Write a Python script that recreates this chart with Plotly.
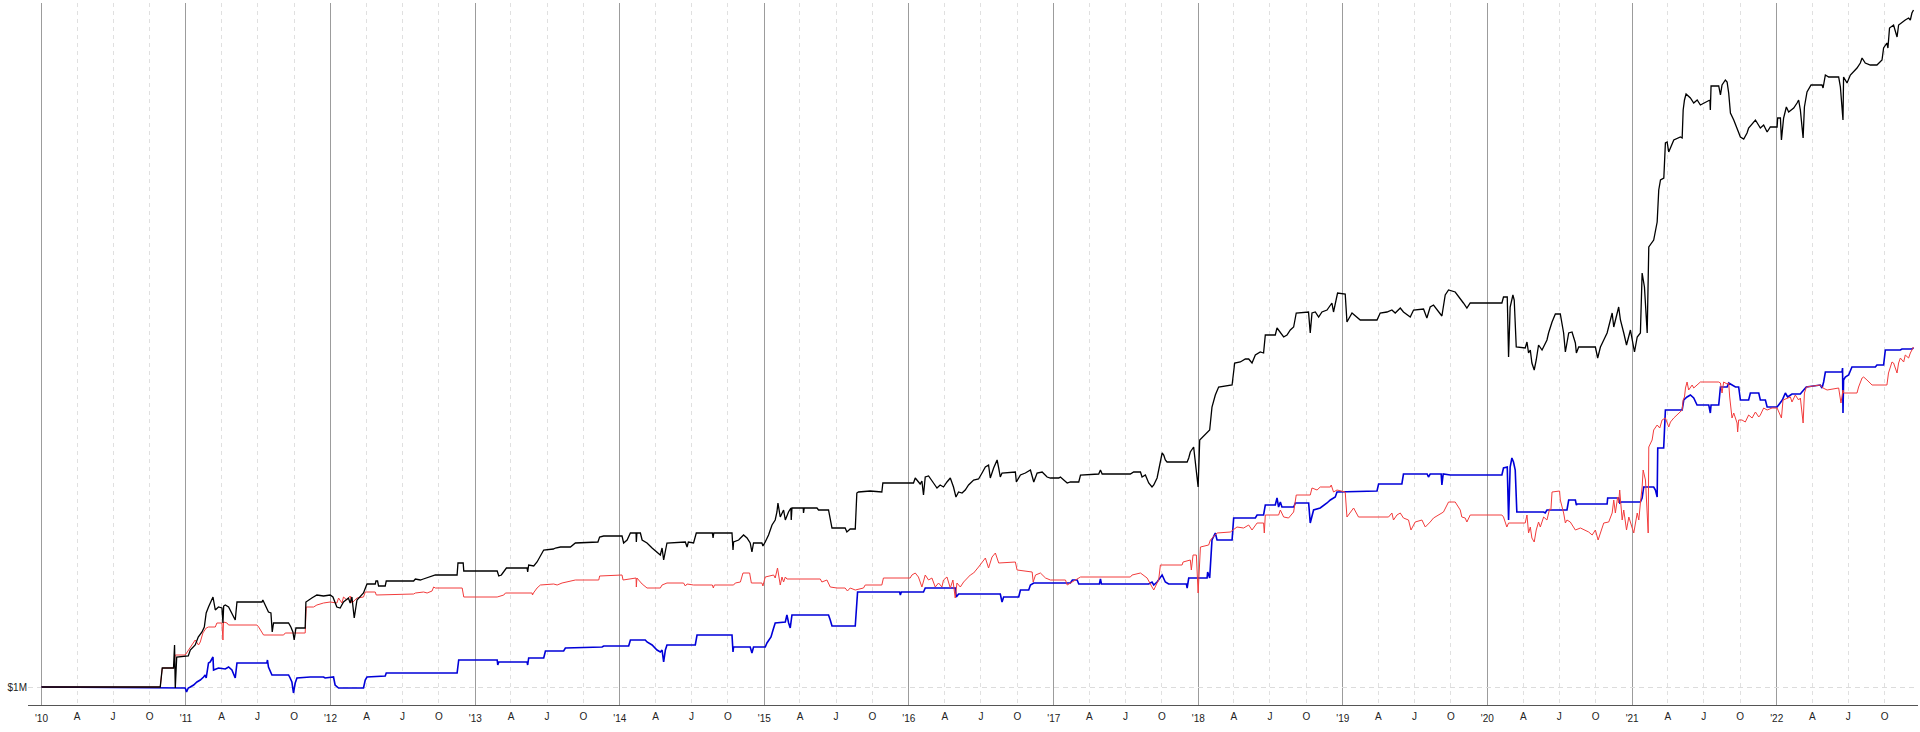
import pandas as pd
import plotly.graph_objects as go

# ---------------- data: time in decimal years, equity in $M ----------------
black_t = [
    2010.000, 2010.822, 2010.836, 2010.914, 2010.921, 2010.926, 2010.936,
    2011.016, 2011.030, 2011.064, 2011.085, 2011.111, 2011.127, 2011.140, 2011.156, 2011.187, 2011.203,
    2011.225, 2011.249, 2011.256, 2011.261, 2011.272, 2011.295, 2011.318, 2011.341, 2011.353, 2011.526,
    2011.532, 2011.548, 2011.571, 2011.588, 2011.597, 2011.606, 2011.710, 2011.726, 2011.740, 2011.749,
    2011.761, 2011.825, 2011.830, 2011.871, 2011.906, 2011.952, 2011.998,
    2012.017, 2012.044, 2012.067, 2012.090, 2012.124, 2012.136, 2012.148, 2012.164, 2012.183, 2012.228,
    2012.252, 2012.309, 2012.314, 2012.325, 2012.332, 2012.378, 2012.385, 2012.574, 2012.586, 2012.620,
    2012.641, 2012.701, 2012.724, 2012.874, 2012.880, 2012.916, 2012.920,
    2013.151, 2013.162, 2013.180, 2013.201, 2013.215, 2013.358, 2013.362, 2013.369, 2013.404, 2013.427,
    2013.445, 2013.473, 2013.540, 2013.554, 2013.589, 2013.623, 2013.658, 2013.692, 2013.848, 2013.860,
    2013.888,
    2014.015, 2014.026, 2014.050, 2014.073, 2014.112, 2014.114, 2014.118, 2014.142, 2014.154, 2014.188,
    2014.223, 2014.257, 2014.280, 2014.292, 2014.303, 2014.326, 2014.453, 2014.465, 2014.474, 2014.510,
    2014.529, 2014.640, 2014.645, 2014.650, 2014.776, 2014.783, 2014.787, 2014.822, 2014.856, 2014.880,
    2014.902, 2014.914, 2014.925, 2014.983, 2014.990,
    2015.006, 2015.029, 2015.053, 2015.075, 2015.087, 2015.094, 2015.110, 2015.133, 2015.145, 2015.167,
    2015.184, 2015.186, 2015.191, 2015.269, 2015.271, 2015.276, 2015.364, 2015.375, 2015.444, 2015.456,
    2015.468, 2015.559, 2015.571, 2015.594, 2015.629, 2015.640, 2015.651, 2015.732, 2015.813, 2015.820,
    2015.997,
    2016.009, 2016.032, 2016.044, 2016.066, 2016.078, 2016.090, 2016.101, 2016.113, 2016.136, 2016.170,
    2016.194, 2016.216, 2016.239, 2016.263, 2016.286, 2016.308, 2016.325, 2016.343, 2016.367, 2016.389,
    2016.412, 2016.447, 2016.481, 2016.505, 2016.528, 2016.550, 2016.562, 2016.585, 2016.609, 2016.620,
    2016.631, 2016.643, 2016.735, 2016.742, 2016.770, 2016.804, 2016.839, 2016.862, 2016.885, 2016.920,
    2016.954, 2016.977,
    2017.035, 2017.046, 2017.093, 2017.115, 2017.173, 2017.185, 2017.311, 2017.323, 2017.335, 2017.530,
    2017.553, 2017.600, 2017.611, 2017.634, 2017.657, 2017.680, 2017.692, 2017.715, 2017.733, 2017.750,
    2017.761, 2017.772, 2017.784, 2017.923, 2017.934, 2017.945, 2017.968, 2017.980, 2017.999,
    2018.010, 2018.061, 2018.079, 2018.095, 2018.118, 2018.141, 2018.234, 2018.252, 2018.291, 2018.326,
    2018.349, 2018.372, 2018.395, 2018.429, 2018.452, 2018.464, 2018.533, 2018.545, 2018.568, 2018.591,
    2018.614, 2018.637, 2018.660, 2018.678, 2018.763, 2018.775, 2018.787, 2018.810, 2018.833, 2018.856,
    2018.891, 2018.925, 2018.936, 2018.948, 2018.964,
    2019.017, 2019.029, 2019.064, 2019.098, 2019.121, 2019.237, 2019.259, 2019.306, 2019.340, 2019.363,
    2019.398, 2019.420, 2019.467, 2019.490, 2019.559, 2019.582, 2019.605, 2019.628, 2019.686, 2019.709,
    2019.732, 2019.778, 2019.824, 2019.835, 2019.859, 2019.882,
    2020.101, 2020.112, 2020.138, 2020.147, 2020.158, 2020.177, 2020.186, 2020.200, 2020.262, 2020.274,
    2020.285, 2020.297, 2020.308, 2020.324, 2020.338, 2020.354, 2020.378, 2020.412, 2020.423, 2020.447,
    2020.470, 2020.504, 2020.527, 2020.539, 2020.562, 2020.585, 2020.608, 2020.615, 2020.631, 2020.746,
    2020.762, 2020.781, 2020.804, 2020.827, 2020.862, 2020.873, 2020.907, 2020.919, 2020.942, 2020.961,
    2020.988,
    2021.016, 2021.035, 2021.057, 2021.069, 2021.085, 2021.104, 2021.115, 2021.149, 2021.161, 2021.173,
    2021.184, 2021.196, 2021.219, 2021.230, 2021.242, 2021.253, 2021.288, 2021.334, 2021.346, 2021.353,
    2021.362, 2021.373, 2021.403, 2021.426, 2021.450, 2021.472, 2021.538, 2021.541, 2021.546, 2021.599,
    2021.611, 2021.622, 2021.645, 2021.657, 2021.668, 2021.680, 2021.703, 2021.726, 2021.749, 2021.772,
    2021.795, 2021.806, 2021.853, 2021.887, 2021.910, 2021.934, 2021.956,
    2022.003, 2022.007, 2022.026, 2022.033, 2022.048, 2022.067, 2022.083, 2022.118, 2022.141, 2022.152,
    2022.164, 2022.183, 2022.192, 2022.210, 2022.238, 2022.314, 2022.321, 2022.337, 2022.360, 2022.429,
    2022.441, 2022.459, 2022.463, 2022.487, 2022.510, 2022.528, 2022.556, 2022.579, 2022.591, 2022.613,
    2022.648, 2022.694, 2022.717, 2022.729, 2022.740, 2022.763, 2022.770, 2022.781, 2022.809, 2022.833,
    2022.844, 2022.867, 2022.890, 2022.913, 2022.925, 2022.936, 2022.947,
]
black_v = [
    1.00, 1.00, 1.19, 1.19, 1.42, 0.99, 1.30,
    1.31, 1.37, 1.42, 1.50, 1.55, 1.60, 1.74, 1.80, 1.90, 1.77,
    1.80, 1.79, 1.64, 1.81, 1.82, 1.80, 1.74, 1.67, 1.85, 1.85,
    1.87, 1.82, 1.75, 1.74, 1.55, 1.64, 1.64, 1.60, 1.55, 1.47,
    1.59, 1.59, 1.85, 1.89, 1.92, 1.91, 1.92,
    1.90, 1.80, 1.79, 1.85, 1.89, 1.84, 1.90, 1.69, 1.87, 1.94,
    2.03, 2.03, 2.06, 2.06, 2.01, 2.01, 2.06, 2.06, 2.08, 2.07,
    2.08, 2.11, 2.12, 2.12, 2.24, 2.24, 2.16,
    2.16, 2.11, 2.12, 2.17, 2.19, 2.19, 2.15, 2.22, 2.21, 2.25,
    2.30, 2.37, 2.38, 2.39, 2.40, 2.40, 2.40, 2.44, 2.45, 2.50,
    2.51,
    2.51, 2.44, 2.47, 2.54, 2.54, 2.45, 2.54, 2.54, 2.47, 2.44,
    2.39, 2.35, 2.32, 2.39, 2.27, 2.44, 2.45, 2.40, 2.45, 2.44,
    2.54, 2.54, 2.49, 2.54, 2.54, 2.37, 2.45, 2.47, 2.52, 2.49,
    2.44, 2.35, 2.44, 2.44, 2.41,
    2.45, 2.52, 2.62, 2.67, 2.75, 2.84, 2.70, 2.77, 2.67, 2.75,
    2.79, 2.67, 2.79, 2.79, 2.74, 2.79, 2.79, 2.77, 2.77, 2.69,
    2.59, 2.59, 2.55, 2.58, 2.58, 2.94, 2.95, 2.96, 2.95, 3.04,
    3.04,
    3.04, 3.04, 3.09, 3.05, 3.03, 3.06, 2.92, 3.10, 3.11, 3.04,
    2.99, 3.02, 3.00, 3.05, 3.09, 3.00, 2.90, 2.95, 2.94, 2.97,
    3.02, 3.07, 3.08, 3.14, 3.20, 3.22, 3.09, 3.19, 3.27, 3.19,
    3.10, 3.14, 3.15, 3.05, 3.12, 3.14, 3.17, 3.05, 3.14, 3.15,
    3.10, 3.09,
    3.09, 3.10, 3.04, 3.05, 3.05, 3.12, 3.13, 3.17, 3.13, 3.13,
    3.15, 3.15, 3.10, 3.12, 3.04, 3.00, 3.02, 3.09, 3.24, 3.34,
    3.32, 3.27, 3.25, 3.25, 3.29, 3.35, 3.40, 3.24, 3.00,
    3.47, 3.54, 3.57, 3.80, 3.92, 4.00, 4.02, 4.24, 4.25, 4.28,
    4.28, 4.24, 4.32, 4.35, 4.34, 4.52, 4.52, 4.59, 4.54, 4.50,
    4.52, 4.57, 4.60, 4.74, 4.75, 4.54, 4.74, 4.75, 4.70, 4.75,
    4.77, 4.84, 4.75, 4.85, 4.94,
    4.93, 4.65, 4.74, 4.70, 4.67, 4.67, 4.74, 4.75, 4.77, 4.74,
    4.79, 4.75, 4.70, 4.77, 4.78, 4.69, 4.80, 4.82, 4.71, 4.92,
    4.97, 4.95, 4.87, 4.84, 4.79, 4.84,
    4.84, 4.90, 4.90, 4.30, 4.80, 4.92, 4.87, 4.40, 4.39, 4.45,
    4.34, 4.37, 4.24, 4.17, 4.27, 4.42, 4.37, 4.47, 4.54, 4.65,
    4.73, 4.73, 4.54, 4.35, 4.54, 4.55, 4.44, 4.34, 4.40, 4.40,
    4.29, 4.40, 4.47, 4.54, 4.74, 4.60, 4.80, 4.67, 4.54, 4.42,
    4.57,
    4.35, 4.50, 4.54, 5.14, 5.00, 4.54, 5.40, 5.47, 5.57, 5.65,
    5.97, 6.07, 6.09, 6.44, 6.45, 6.35, 6.47, 6.50, 6.49, 6.77,
    6.87, 6.93, 6.89, 6.84, 6.87, 6.82, 6.87, 6.77, 7.01, 7.01,
    6.92, 7.02, 7.07, 7.05, 6.94, 6.74, 6.67, 6.59, 6.50, 6.48,
    6.54, 6.59, 6.67, 6.59, 6.62, 6.55, 6.60,
    6.60, 6.69, 6.69, 6.47, 6.69, 6.80, 6.75, 6.79, 6.84, 6.87,
    6.77, 6.49, 6.80, 6.95, 7.02, 7.02, 6.99, 7.12, 7.10, 7.10,
    7.00, 6.67, 7.10, 7.04, 7.12, 7.15, 7.19, 7.24, 7.29, 7.24,
    7.22, 7.22, 7.25, 7.27, 7.39, 7.44, 7.39, 7.59, 7.62, 7.50,
    7.62, 7.65, 7.67, 7.69, 7.67, 7.74, 7.77,
]

red_t = [
    2010.000, 2010.822, 2010.836, 2010.914, 2010.926, 2010.995,
    2011.018, 2011.041, 2011.064, 2011.087, 2011.099, 2011.117, 2011.140, 2011.156, 2011.203, 2011.214,
    2011.249, 2011.256, 2011.260, 2011.284, 2011.295, 2011.491, 2011.503, 2011.537, 2011.676, 2011.687,
    2011.825, 2011.832, 2011.883, 2011.906, 2011.952, 2011.998,
    2012.044, 2012.056, 2012.079, 2012.090, 2012.113, 2012.136, 2012.148, 2012.183, 2012.228, 2012.240,
    2012.309, 2012.316, 2012.574, 2012.586, 2012.643, 2012.667, 2012.701, 2012.712, 2012.724, 2012.909,
    2012.920,
    2013.151, 2013.174, 2013.197, 2013.208, 2013.393, 2013.395, 2013.402, 2013.427, 2013.450, 2013.542,
    2013.566, 2013.600, 2013.692, 2013.854, 2013.860,
    2014.015, 2014.022, 2014.112, 2014.114, 2014.118, 2014.154, 2014.188, 2014.280, 2014.292, 2014.326,
    2014.441, 2014.453, 2014.465, 2014.510, 2014.640, 2014.647, 2014.654, 2014.787, 2014.799, 2014.834,
    2014.852, 2014.898, 2014.910, 2014.983, 2014.990,
    2015.006, 2015.064, 2015.075, 2015.091, 2015.110, 2015.122, 2015.133, 2015.145, 2015.156, 2015.387,
    2015.398, 2015.433, 2015.456, 2015.502, 2015.559, 2015.575, 2015.594, 2015.629, 2015.686, 2015.698,
    2015.813, 2015.824,
    2016.009, 2016.021, 2016.044, 2016.066, 2016.090, 2016.113, 2016.136, 2016.159, 2016.182, 2016.205,
    2016.228, 2016.239, 2016.263, 2016.286, 2016.304, 2016.320, 2016.332, 2016.355, 2016.378, 2016.424,
    2016.447, 2016.481, 2016.516, 2016.528, 2016.550, 2016.574, 2016.597, 2016.620, 2016.735, 2016.747,
    2016.851, 2016.858, 2016.874, 2016.908, 2016.943, 2016.977,
    2017.081, 2017.093, 2017.127, 2017.185, 2017.530, 2017.542, 2017.600, 2017.646, 2017.680, 2017.692,
    2017.715, 2017.726, 2017.738, 2017.888, 2017.895, 2017.945, 2017.952, 2017.964, 2017.987, 2017.999,
    2018.015, 2018.072, 2018.084, 2018.130, 2018.222, 2018.268, 2018.314, 2018.349, 2018.372, 2018.407,
    2018.452, 2018.457, 2018.464, 2018.556, 2018.568, 2018.591, 2018.625, 2018.660, 2018.678, 2018.775,
    2018.787, 2018.822, 2018.844, 2018.914, 2018.920, 2018.936, 2018.960,
    2019.017, 2019.029, 2019.064, 2019.075, 2019.109, 2019.317, 2019.340, 2019.351, 2019.375, 2019.398,
    2019.420, 2019.455, 2019.472, 2019.501, 2019.548, 2019.571, 2019.605, 2019.628, 2019.697, 2019.732,
    2019.778, 2019.790, 2019.813, 2019.824, 2019.847, 2019.859, 2019.882,
    2020.101, 2020.112, 2020.135, 2020.147, 2020.262, 2020.274, 2020.285, 2020.297, 2020.308, 2020.324,
    2020.338, 2020.354, 2020.366, 2020.389, 2020.412, 2020.430, 2020.439, 2020.447, 2020.499, 2020.504,
    2020.527, 2020.539, 2020.550, 2020.573, 2020.608, 2020.643, 2020.700, 2020.724, 2020.746, 2020.765,
    2020.781, 2020.804, 2020.838, 2020.862, 2020.873, 2020.884, 2020.900, 2020.907, 2020.914, 2020.931,
    2020.942, 2020.961, 2020.977,
    2021.011, 2021.035, 2021.046, 2021.057, 2021.069, 2021.076, 2021.092, 2021.111, 2021.115, 2021.138,
    2021.149, 2021.173, 2021.191, 2021.207, 2021.230, 2021.253, 2021.265, 2021.288, 2021.311, 2021.329,
    2021.346, 2021.353, 2021.362, 2021.369, 2021.380, 2021.391, 2021.415, 2021.426, 2021.472, 2021.599,
    2021.611, 2021.622, 2021.633, 2021.657, 2021.668, 2021.675, 2021.691, 2021.703, 2021.726, 2021.730,
    2021.737, 2021.760, 2021.783, 2021.806, 2021.830, 2021.853, 2021.876, 2021.887, 2021.910, 2021.934,
    2021.968,
    2022.003, 2022.033, 2022.044, 2022.072, 2022.095, 2022.106, 2022.129, 2022.152, 2022.164, 2022.183,
    2022.192, 2022.206, 2022.302, 2022.321, 2022.349, 2022.429, 2022.445, 2022.459, 2022.463, 2022.556,
    2022.567, 2022.591, 2022.602, 2022.625, 2022.660, 2022.763, 2022.774, 2022.798, 2022.809, 2022.833,
    2022.844, 2022.856, 2022.879, 2022.890, 2022.913, 2022.925, 2022.947,
]
red_v = [
    1.00, 1.00, 1.19, 1.19, 1.32, 1.32,
    1.37, 1.42, 1.47, 1.42, 1.45, 1.54, 1.59, 1.60, 1.60, 1.64,
    1.64, 1.47, 1.65, 1.64, 1.62, 1.62, 1.60, 1.52, 1.52, 1.54,
    1.54, 1.80, 1.80, 1.82, 1.84, 1.85,
    1.84, 1.89, 1.84, 1.90, 1.87, 1.91, 1.84, 1.89, 1.90, 1.95,
    1.95, 1.92, 1.93, 1.94, 1.95, 1.94, 1.96, 2.00, 1.99, 1.99,
    1.90,
    1.90, 1.91, 1.92, 1.94, 1.94, 1.92, 1.94, 1.99, 2.02, 2.03,
    2.02, 2.04, 2.07, 2.07, 2.11,
    2.12, 2.07, 2.09, 2.00, 2.09, 2.03, 1.99, 1.99, 2.02, 2.04,
    2.04, 2.01, 2.03, 2.02, 2.02, 1.99, 2.02, 2.02, 2.04, 2.05,
    2.14, 2.14, 2.04, 2.04, 2.01,
    2.10, 2.12, 2.09, 2.19, 2.02, 2.10, 2.05, 2.10, 2.08, 2.08,
    2.05, 2.07, 2.00, 1.99, 1.99, 1.96, 1.99, 1.97, 1.99, 2.02,
    2.02, 2.09,
    2.09, 2.12, 2.14, 2.10, 2.00, 2.12, 2.07, 2.09, 2.00, 2.04,
    2.00, 2.07, 2.10, 1.99, 2.07, 1.89, 2.04, 2.00, 2.05, 2.12,
    2.14, 2.20, 2.27, 2.29, 2.19, 2.30, 2.34, 2.24, 2.25, 2.17,
    2.15, 2.05, 2.12, 2.14, 2.09, 2.07,
    2.07, 2.02, 2.05, 2.10, 2.10, 2.12, 2.14, 2.09, 2.00, 1.97,
    2.04, 2.07, 2.22, 2.22, 2.25, 2.27, 2.17, 2.32, 2.32, 1.94,
    2.40, 2.42, 2.47, 2.54, 2.55, 2.60, 2.59, 2.62, 2.57, 2.64,
    2.64, 2.54, 2.72, 2.72, 2.77, 2.70, 2.69, 2.75, 2.92, 2.92,
    2.99, 2.97, 3.00, 3.00, 3.02, 2.95, 2.97,
    2.95, 2.70, 2.77, 2.79, 2.70, 2.70, 2.74, 2.67, 2.72, 2.74,
    2.69, 2.67, 2.57, 2.65, 2.67, 2.60, 2.65, 2.69, 2.75, 2.85,
    2.85, 2.82, 2.77, 2.70, 2.69, 2.65, 2.72,
    2.72, 2.70, 2.60, 2.64, 2.64, 2.72, 2.54, 2.60, 2.49, 2.45,
    2.57, 2.65, 2.60, 2.70, 2.67, 2.78, 2.77, 2.95, 2.96, 2.87,
    2.74, 2.64, 2.67, 2.65, 2.57, 2.59, 2.55, 2.52, 2.57, 2.47,
    2.54, 2.64, 2.65, 2.74, 2.87, 2.74, 2.90, 2.84, 2.97, 2.67,
    2.77, 2.57, 2.70,
    2.54, 2.74, 2.67, 2.84, 3.00, 3.17, 3.07, 2.54, 3.40, 3.47,
    3.57, 3.62, 3.59, 3.67, 3.69, 3.60, 3.65, 3.69, 3.72, 3.74,
    3.77, 3.87, 3.90, 3.99, 4.05, 3.97, 4.02, 3.99, 4.05, 4.05,
    4.04, 3.94, 4.05, 4.03, 4.04, 3.90, 3.69, 3.74, 3.64, 3.55,
    3.67, 3.67, 3.65, 3.72, 3.69, 3.75, 3.70, 3.72, 3.79, 3.77,
    3.79,
    3.79, 3.69, 3.87, 3.89, 3.90, 3.85, 3.92, 3.87, 3.89, 3.64,
    3.94, 4.00, 4.02, 3.99, 3.97, 3.99, 3.84, 3.97, 3.94, 3.94,
    4.00, 4.09, 4.10, 4.07, 4.02, 4.02, 4.14, 4.25, 4.24, 4.14,
    4.24, 4.29, 4.25, 4.32, 4.29, 4.34, 4.40,
]

blue_t = [
    2010.000, 2010.822, 2010.995,
    2011.004, 2011.016, 2011.030, 2011.053, 2011.076, 2011.099, 2011.122, 2011.133, 2011.140, 2011.156,
    2011.168, 2011.187, 2011.191, 2011.225, 2011.272, 2011.295, 2011.318, 2011.341, 2011.353, 2011.560,
    2011.564, 2011.571, 2011.595, 2011.710, 2011.721, 2011.733, 2011.744, 2011.756, 2011.768, 2011.860,
    2011.952, 2011.963,
    2012.021, 2012.032, 2012.056, 2012.228, 2012.240, 2012.252, 2012.378, 2012.385, 2012.874, 2012.885,
    2013.151, 2013.155, 2013.162, 2013.358, 2013.362, 2013.369, 2013.473, 2013.485, 2013.611, 2013.623,
    2013.877, 2013.888,
    2014.061, 2014.073, 2014.176, 2014.188, 2014.223, 2014.257, 2014.280, 2014.292, 2014.303, 2014.315,
    2014.326, 2014.522, 2014.534, 2014.776, 2014.783, 2014.787, 2014.902, 2014.914, 2014.925,
    2015.006, 2015.018, 2015.046, 2015.060, 2015.075, 2015.145, 2015.156, 2015.168, 2015.179, 2015.191,
    2015.444, 2015.456, 2015.468, 2015.629, 2015.645, 2015.936, 2015.941, 2015.948,
    2016.101, 2016.113, 2016.320, 2016.327, 2016.343, 2016.631, 2016.643, 2016.654, 2016.758, 2016.770,
    2016.827, 2016.839, 2016.862,
    2017.115, 2017.129, 2017.162, 2017.173, 2017.316, 2017.323, 2017.330, 2017.657, 2017.680, 2017.692,
    2017.715, 2017.750, 2017.772, 2017.795, 2017.918, 2017.923, 2017.934,
    2018.061, 2018.065, 2018.079, 2018.095, 2018.118, 2018.130, 2018.234, 2018.245, 2018.395, 2018.407,
    2018.452, 2018.464, 2018.533, 2018.545, 2018.556, 2018.568, 2018.579, 2018.660, 2018.672, 2018.764,
    2018.775, 2018.798, 2018.844, 2018.891, 2018.914, 2018.948, 2018.960,
    2019.237, 2019.248, 2019.409, 2019.420, 2019.584, 2019.593, 2019.605, 2019.681, 2019.686, 2019.695,
    2019.744,
    2020.101, 2020.112, 2020.138, 2020.147, 2020.158, 2020.170, 2020.181, 2020.193, 2020.204, 2020.389,
    2020.400, 2020.412, 2020.550, 2020.562, 2020.608, 2020.615, 2020.620, 2020.827, 2020.831, 2020.907,
    2020.914, 2020.924,
    2021.057, 2021.069, 2021.080, 2021.149, 2021.161, 2021.173, 2021.177, 2021.218, 2021.230, 2021.346,
    2021.357, 2021.380, 2021.403, 2021.426, 2021.449, 2021.530, 2021.541, 2021.546, 2021.599, 2021.611,
    2021.657, 2021.668, 2021.715, 2021.737, 2021.749, 2021.806, 2021.818, 2021.876, 2021.887, 2021.922,
    2021.934,
    2022.003, 2022.021, 2022.039, 2022.060, 2022.076, 2022.106, 2022.164, 2022.175, 2022.205, 2022.302,
    2022.314, 2022.325, 2022.337, 2022.452, 2022.456, 2022.459, 2022.463, 2022.475, 2022.498, 2022.521,
    2022.683, 2022.694, 2022.740, 2022.752, 2022.856, 2022.867, 2022.936, 2022.947,
]
blue_v = [
    1.00, 0.99, 0.99,
    0.95, 0.99, 1.00, 1.02, 1.05, 1.07, 1.10, 1.12, 1.09, 1.24,
    1.25, 1.30, 1.17, 1.19, 1.18, 1.20, 1.17, 1.09, 1.24, 1.24,
    1.27, 1.20, 1.12, 1.12, 1.09, 1.05, 0.94, 1.04, 1.09, 1.10,
    1.10, 1.09,
    1.10, 1.02, 0.99, 0.99, 1.07, 1.10, 1.11, 1.14, 1.14, 1.27,
    1.27, 1.22, 1.25, 1.25, 1.22, 1.29, 1.29, 1.36, 1.36, 1.39,
    1.40, 1.41,
    1.41, 1.47, 1.47, 1.45, 1.42, 1.37, 1.35, 1.37, 1.25, 1.37,
    1.42, 1.42, 1.52, 1.52, 1.35, 1.40, 1.40, 1.34, 1.40,
    1.40, 1.44, 1.50, 1.57, 1.64, 1.65, 1.72, 1.64, 1.59, 1.72,
    1.72, 1.67, 1.61, 1.61, 1.95, 1.95, 1.92, 1.95,
    1.95, 1.99, 1.99, 1.90, 1.93, 1.93, 1.85, 1.90, 1.90, 1.97,
    1.97, 2.02, 2.04,
    2.04, 2.07, 2.07, 2.03, 2.03, 2.08, 2.03, 2.03, 2.05, 2.02,
    2.05, 2.12, 2.05, 2.03, 2.03, 1.99, 2.09,
    2.09, 2.15, 2.09, 2.47, 2.54, 2.47, 2.47, 2.69, 2.69, 2.72,
    2.72, 2.82, 2.82, 2.89, 2.80, 2.85, 2.80, 2.80, 2.84, 2.84,
    2.64, 2.77, 2.79, 2.84, 2.87, 2.90, 2.95,
    2.96, 3.03, 3.03, 3.13, 3.13, 3.10, 3.13, 3.13, 3.02, 3.13,
    3.12,
    3.12, 3.19, 3.20, 2.67, 3.20, 3.29, 3.25, 3.17, 2.75, 2.75,
    2.74, 2.77, 2.77, 2.87, 2.87, 2.82, 2.83, 2.83, 2.89, 2.89,
    2.84, 2.85,
    2.85, 2.89, 3.00, 3.00, 2.97, 2.90, 3.39, 3.39, 3.77, 3.77,
    3.87, 3.90, 3.92, 3.89, 3.82, 3.82, 3.74, 3.82, 3.82, 4.00,
    4.00, 4.04, 4.00, 4.00, 3.87, 3.87, 3.94, 3.94, 3.87, 3.87,
    3.80,
    3.80, 3.84, 3.87, 3.94, 3.90, 3.93, 3.93, 3.95, 4.00, 4.02,
    3.99, 4.05, 4.15, 4.15, 4.19, 3.74, 4.07, 4.10, 4.12, 4.20,
    4.20, 4.22, 4.22, 4.37, 4.37, 4.38, 4.38, 4.39,
]

# axis ticks
tick_years = list(range(2010, 2023))
year_labels = ["'" + str(y)[2:] for y in tick_years]
quarter_months = [4, 7, 10]
quarter_letters = ["A", "J", "O"]
y_tick_values = [1.0]
y_tick_labels = ["$1M"]
x_range = ["2009-11-28", "2022-12-24"]
y_range = [0.82, 7.84]


def to_dates(ts):
    out = []
    for t in ts:
        y = int(t)
        start = pd.Timestamp(year=y, month=1, day=1)
        end = pd.Timestamp(year=y + 1, month=1, day=1)
        out.append(start + (end - start) * (t - y))
    return out


year_vals = [f"{y}-01-01" for y in tick_years]
quarter_vals = [f"{y}-{m:02d}-01" for y in tick_years for m in quarter_months]
quarter_text = [q for y in tick_years for q in quarter_letters]

fig = go.Figure()
fig.add_trace(go.Scatter(x=to_dates(blue_t), y=blue_v, mode="lines",
                         line=dict(color="#0000d8", width=1.6), name="blue"))
fig.add_trace(go.Scatter(x=to_dates(red_t), y=red_v, mode="lines",
                         line=dict(color="#f23c3c", width=1.0), name="red"))
# black on the overlay x-axis (same range) so that axis carries the quarter letters
fig.add_trace(go.Scatter(x=to_dates(black_t), y=black_v, mode="lines", xaxis="x2",
                         line=dict(color="#000000", width=1.3), name="black"))

fig.update_layout(
    width=1920, height=732,
    margin=dict(l=28, r=2, t=3, b=27),
    paper_bgcolor="white", plot_bgcolor="white",
    showlegend=False,
    font=dict(family="Liberation Sans, Arial, sans-serif", size=10, color="#222222"),
    xaxis=dict(
        type="date", range=x_range,
        tickmode="array", tickvals=year_vals, ticktext=year_labels,
        showgrid=True, gridcolor="#9c9c9c", gridwidth=1,
        minor=dict(tickmode="array", tickvals=quarter_vals, showgrid=True,
                   gridcolor="#e0e0e0", griddash="4px,4px", gridwidth=1, ticks=""),
        showline=True, linecolor="#555555", linewidth=1,
        ticks="", zeroline=False, ticklabelstandoff=4,
    ),
    xaxis2=dict(
        type="date", range=x_range, overlaying="x", anchor="y", side="bottom",
        tickmode="array", tickvals=quarter_vals, ticktext=quarter_text,
        showgrid=False, showline=False, ticks="", zeroline=False, ticklabelstandoff=4,
    ),
    yaxis=dict(
        range=y_range, tickmode="array", tickvals=y_tick_values, ticktext=y_tick_labels,
        showgrid=True, gridcolor="#dcdcdc", griddash="5px,4px", gridwidth=1,
        zeroline=False, showline=False, ticks="",
    ),
)

fig.write_html(
    "out.html",
    config={"displayModeBar": False},
    post_script="document.body.style.margin='0';document.body.style.overflow='hidden';",
)
